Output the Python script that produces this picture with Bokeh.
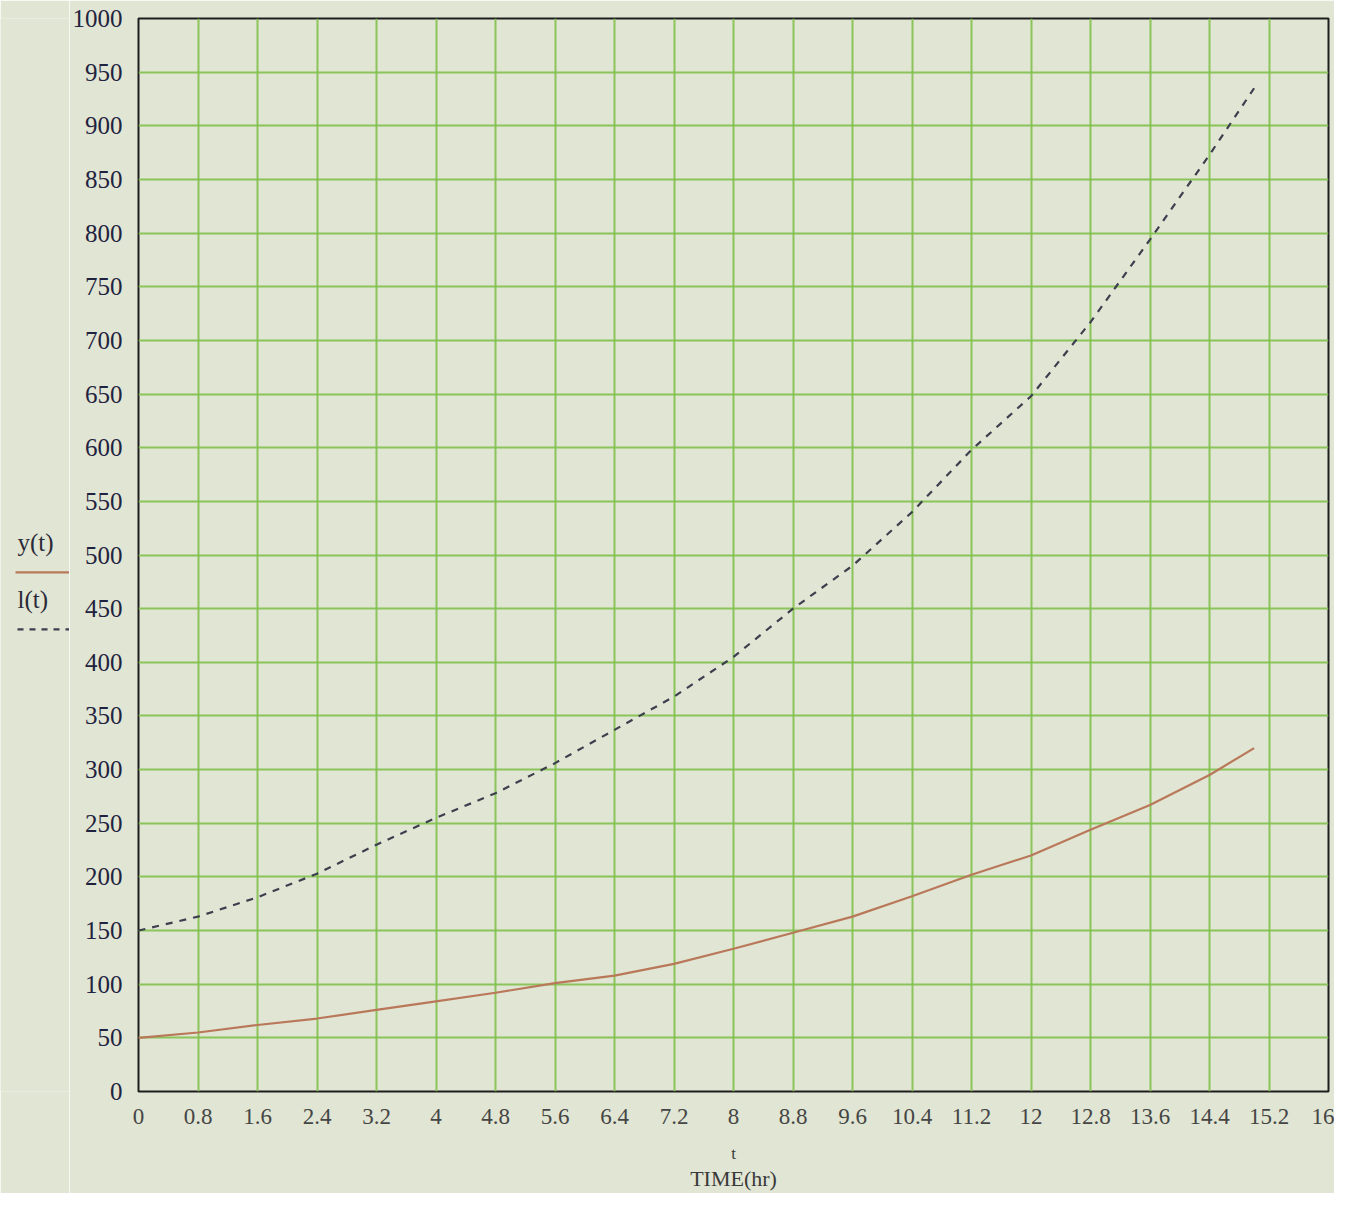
from bokeh.plotting import figure
from bokeh.models import Range1d, FixedTicker, LinearAxis
from bokeh.layouts import row
from bokeh.core.properties import value
from bokeh.embed import file_html
from bokeh.resources import INLINE

# ---- data ----
t = [0, 0.8, 1.6, 2.4, 3.2, 4, 4.8, 5.6, 6.4, 7.2, 8, 8.8, 9.6, 10.4, 11.2, 12, 12.8, 13.6, 14.4, 15]
y_t = [50, 55, 62, 68, 76, 84, 92, 101, 108, 119, 133, 148, 163, 182, 202, 220, 244, 267, 295, 320]
l_t = [150, 163, 181, 203, 230, 255, 278, 306, 337, 368, 405, 450, 490, 540, 598, 648, 717, 794, 873, 935]

x_ticks = [0, 0.8, 1.6, 2.4, 3.2, 4, 4.8, 5.6, 6.4, 7.2, 8, 8.8, 9.6, 10.4, 11.2, 12, 12.8, 13.6, 14.4, 15.2, 16]
x_tick_labels = ["0", "0.8", "1.6", "2.4", "3.2", "4", "4.8", "5.6", "6.4", "7.2", "8", "8.8",
                 "9.6", "10.4", "11.2", "12", "12.8", "13.6", "14.4", "15.2", "16"]
y_ticks = [0, 50, 100, 150, 200, 250, 300, 350, 400, 450, 500, 550, 600, 650, 700, 750,
           800, 850, 900, 950, 1000]
series_names = ["y(t)", "l(t)"]

BG = "#e1e5d3"
GRID = "#82c04c"
FONT = "Liberation Serif"
SOLID = "#b9785a"
DASHED = "#3c3f4e"

LEG_W = 69
TOTAL_H = 1193
TOP = 18
BOTTOM = 100

# ---------------- main plot ----------------
p = figure(width=1334 - LEG_W, height=TOTAL_H, output_backend="svg", toolbar_location=None,
           x_range=Range1d(0, 16), y_range=Range1d(0, 1000),
           min_border_left=138 - LEG_W, min_border_right=6,
           min_border_top=TOP, min_border_bottom=BOTTOM)

p.background_fill_color = BG
p.border_fill_color = BG
p.outline_line_color = "#1e1e1e"
p.outline_line_width = 2

p.xaxis.ticker = FixedTicker(ticks=x_ticks)
p.yaxis.ticker = FixedTicker(ticks=y_ticks)
p.xaxis.major_label_overrides = dict(zip(x_ticks, x_tick_labels))

for ax in (p.xaxis, p.yaxis):
    ax.axis_line_color = None
    ax.major_tick_line_color = None
    ax.minor_tick_line_color = None
    ax.major_label_text_font = FONT

p.yaxis.major_label_text_font_size = "25px"
p.yaxis.major_label_text_color = "#1f2340"
p.yaxis.major_label_standoff = 10
p.xaxis.major_label_text_font_size = "23px"
p.xaxis.major_label_text_color = "#454545"
p.xaxis.major_label_standoff = 11

# "t" directly under the tick labels, "TIME(hr)" under it
p.xaxis.axis_label = "t"
p.xaxis.axis_label_text_font = FONT
p.xaxis.axis_label_text_font_style = "normal"
p.xaxis.axis_label_text_font_size = "17px"
p.xaxis.axis_label_text_color = "#3a3a3a"
p.xaxis.axis_label_standoff = 17

ax2 = LinearAxis(ticker=FixedTicker(ticks=[]), axis_label="TIME(hr)",
                 axis_label_text_font=FONT, axis_label_text_font_style="normal",
                 axis_label_text_font_size="22px", axis_label_text_color="#3a3a3a",
                 axis_label_standoff=0, axis_line_color=None,
                 major_tick_line_color=None, minor_tick_line_color=None,
                 major_label_text_font_size="1px", major_label_standoff=0)
p.add_layout(ax2, "below")

p.xgrid.ticker = FixedTicker(ticks=x_ticks)
p.ygrid.ticker = FixedTicker(ticks=y_ticks)
for g in (p.xgrid, p.ygrid):
    g.grid_line_color = GRID
    g.grid_line_width = 2
    g.grid_line_alpha = 0.9

# curves
p.line(t, y_t, line_color=SOLID, line_width=2.2)
p.line(t, l_t, line_color=DASHED, line_width=2.2, line_dash="7 7")

# ---------------- left legend strip (screen-pixel coordinates) ----------------
leg = figure(width=LEG_W, height=TOTAL_H, output_backend="svg", toolbar_location=None,
             x_range=Range1d(0, LEG_W), y_range=Range1d(TOTAL_H - BOTTOM, TOP),
             min_border_left=0, min_border_right=0,
             min_border_top=TOP, min_border_bottom=BOTTOM)
leg.axis.visible = False
leg.grid.visible = False
leg.outline_line_color = None
leg.background_fill_color = BG
leg.border_fill_color = BG

leg.text(x=[17, 17], y=[543, 600], text=series_names, text_font=value(FONT),
         text_font_size="25px", text_color="#2a2a38", text_align="left",
         text_baseline="middle")
leg.line(x=[15, 69], y=[573, 573], line_color=SOLID, line_width=2.2)
leg.line(x=[17, 69], y=[630, 630], line_color=DASHED, line_width=2.2, line_dash="6 6")

layout = row(leg, p)
open("out.html", "w").write(file_html(layout, INLINE))
